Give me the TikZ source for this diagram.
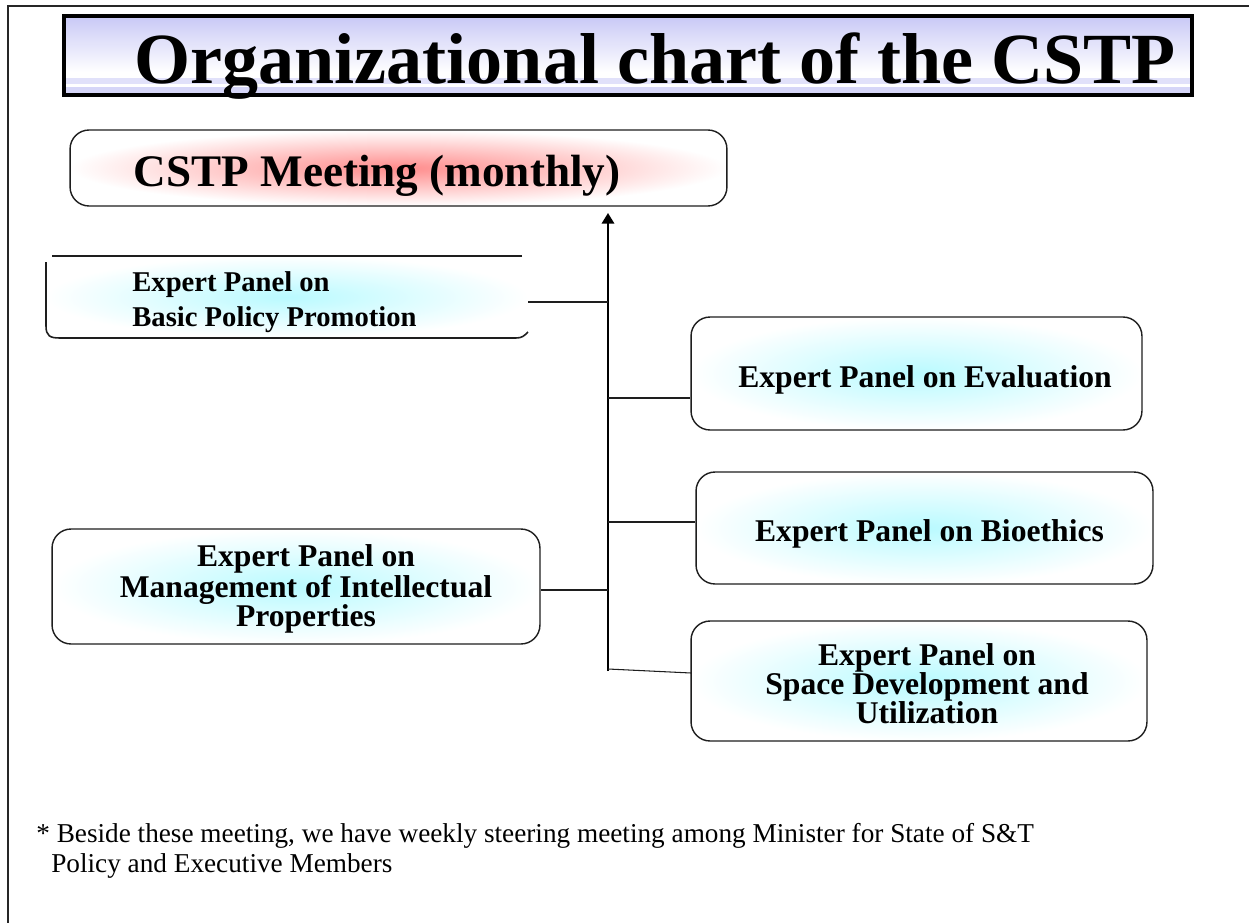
\documentclass[tikz,border=0pt]{standalone}
\usepackage{fontspec}
\setmainfont{Liberation Serif}
\usetikzlibrary{arrows.meta}
\definecolor{glowcyan}{RGB}{185,250,255}
\definecolor{glowred}{RGB}{255,140,140}
\definecolor{lav}{RGB}{200,200,246}
\definecolor{edge}{RGB}{30,30,30}
\tikzset{
  panelbox/.style={draw=edge, line width=0.8pt, rounded corners=0.38cm, inner sep=0pt,
    shading=radial, inner color=glowcyan, outer color=white},
  meetbox/.style={panelbox, inner color=glowred},
  paneltext/.style={font=\fontsize{18}{16.5}\selectfont\bfseries, align=center, inner sep=0pt, anchor=base},
  conn/.style={draw=edge, line width=0.6pt},
  trunk/.style={draw=black, line width=1.2pt},
  frame/.style={draw=black!85, line width=1.2pt},
}
\begin{document}
\begin{tikzpicture}[x=0.02cm,y=-0.02cm]
\useasboundingbox (0,0) rectangle (1249,923);
\fill[white] (0,0) rectangle (1249,923);
% outer slide frame (top and left edges)
\draw[frame] (1249,6) -- (8,6) -- (8,923);

% title box
\fill[top color=lav, bottom color=white] (64,16) rectangle (1192,72);
\fill[lav!55] (64,78) rectangle (1192,84);
\fill[lav!75] (64,87) rectangle (1192,95);
\draw[black, line width=2.3pt] (64,16) rectangle (1192,95);
\node[font=\fontsize{41}{41}\selectfont\bfseries, anchor=base, inner sep=0pt] (title) at (655,83) {Organizational chart of the CSTP};

% CSTP meeting box
\node[meetbox, minimum width=13.14cm, minimum height=1.52cm] (meet) at (398.5,168) {};
\node[font=\fontsize{25.7}{26}\selectfont\bfseries, anchor=base, inner sep=0pt] (meettext) at (377,186) {CSTP Meeting (monthly)};

% trunk line
\coordinate (trunkbot) at (608,671);
\coordinate (trunktop) at (608,213);
\draw[trunk, -{Triangle[width=7pt,length=6pt]}] (trunkbot) -- (trunktop);

% Basic policy box (open on the right)
\node[inner sep=0pt, minimum width=9.64cm, minimum height=1.64cm, shading=radial, inner color=glowcyan, outer color=white] (basic) at (287,297) {};
\draw[edge, line width=0.9pt] (522,256) -- (52,256);
\draw[edge, line width=0.9pt] (46,262) -- (46,326) .. controls (46,336) and (50,338) .. (60,338) -- (516,338) .. controls (522,338) and (524,336) .. (528,332);
\node[font=\fontsize{16.3}{19.8}\selectfont\bfseries, align=left, anchor=base west, inner sep=0pt] (basictext) at (132,326) {Expert Panel on\\Basic Policy Promotion};

% Evaluation
\node[panelbox, minimum width=9.02cm, minimum height=2.26cm] (eval) at (916.5,373.5) {};
\node[paneltext] (evaltext) at (925,387) {Expert Panel on Evaluation};

% Bioethics
\node[panelbox, minimum width=9.14cm, minimum height=2.24cm] (bio) at (924.5,528) {};
\node[paneltext] (biotext) at (929.5,541) {Expert Panel on Bioethics};

% Management of IP
\node[panelbox, minimum width=9.76cm, minimum height=2.3cm] (mgmt) at (296,586.5) {};
\node[paneltext] (mgmttext) at (306,626) {Expert Panel on\\Management of Intellectual\\Properties};

% Space
\node[panelbox, minimum width=9.12cm, minimum height=2.4cm] (space) at (919,681) {};
\node[paneltext] (spacetext) at (927,723) {Expert Panel on\\Space Development and\\Utilization};

% connectors
\coordinate (j1) at (608,302);
\coordinate (j2) at (608,398);
\coordinate (j3) at (608,522);
\coordinate (j4) at (608,590);
\coordinate (j5) at (608,669);
\coordinate (e5) at (691,673);
\draw[conn] (j1) -- (basic.east |- j1);
\draw[conn] (j2) -- (eval.west |- j2);
\draw[conn] (j3) -- (bio.west |- j3);
\draw[conn] (j4) -- (mgmt.east |- j4);
\draw[conn] (j5) -- (e5);

% footnote
\node[font=\fontsize{15.5}{17}\selectfont, align=left, anchor=base west, inner sep=0pt] (note) at (36,872) {* Beside these meeting, we have weekly steering meeting among Minister for State of S\&T\\\hspace*{0.55em}Policy and Executive Members};
\end{tikzpicture}
\end{document}
